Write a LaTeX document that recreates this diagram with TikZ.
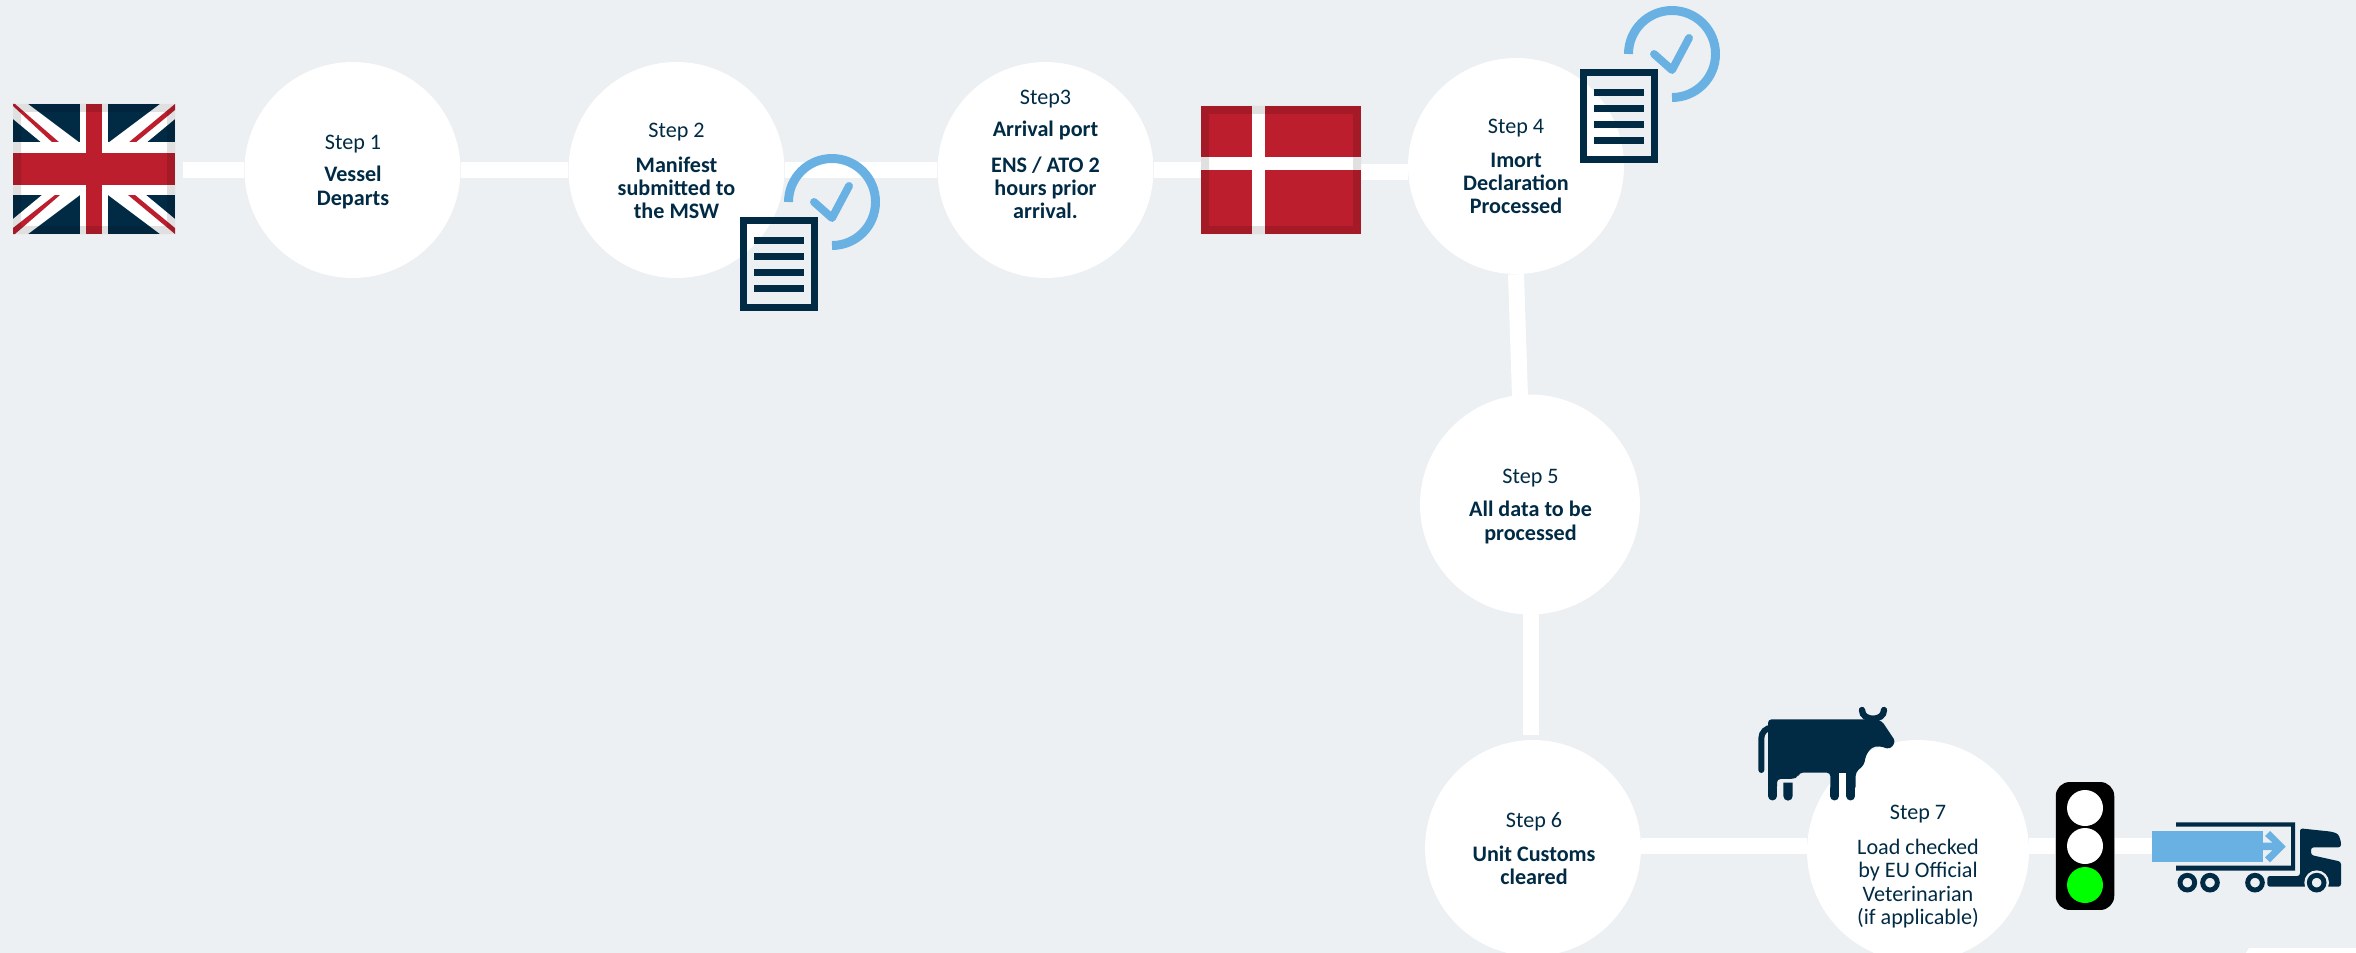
\documentclass[tikz,border=0pt]{standalone}
\usepackage{fontspec}
\setmainfont{Carlito}
\usetikzlibrary{positioning}
\definecolor{paper}{HTML}{ECF0F3}
\definecolor{navy}{HTML}{012B45}
\definecolor{flagred}{HTML}{BC1E2D}
\definecolor{sky}{HTML}{69B1E3}
\tikzset{stepdisc/.style = {draw = none, fill = white, circle, inner sep = 0, minimum size = 4.32cm}}
\tikzset{steplabel/.style = {text = navy, align = center, inner sep = 0, font = \fontsize{12.6}{13.2}\selectfont}}
\tikzset{stepbody/.style = {steplabel, font = \fontsize{12.6}{13.2}\selectfont\bfseries}}
\tikzset{link/.style = {draw = white, line width = 9.1pt}}
\tikzset{lamp/.style = {circle, inner sep = 0, minimum size = 0.72cm}}
\tikzset{docmark/.pic = {
      \draw [sky, line width = 5.1pt] (-43.5, 0) arc [start angle = 180, end angle = 450, radius = 43.5];
      \draw [sky, line width = 4.5pt, line cap = round, line join = round] (-18, 0) -- (0, 16) -- (17, -16);
      \draw [navy, line width = 4pt] (-88.5, 18.5) rectangle (-17.5, 105.5);
      \draw [navy, line width = 4pt] (-78, 38.5) -- (-28, 38.5);
      \draw [navy, line width = 4pt] (-78, 54.5) -- (-28, 54.5);
      \draw [navy, line width = 4pt] (-78, 70.5) -- (-28, 70.5);
      \draw [navy, line width = 4pt] (-78, 86.5) -- (-28, 86.5);
    }}

\begin{document}
\begin{tikzpicture}[x=0.02cm, y=-0.02cm]
      \path [use as bounding box, clip] (0, 0) rectangle (2356, 953);
      \fill [paper] (0, 0) rectangle (2356, 953);
      \fill [white] (2246, 953) -- (2249, 948) -- (2356, 948) -- (2356, 953) -- cycle;

      % stops along the route
      \node [stepdisc] (s1) at (352.5, 170) {};
      \node [stepdisc] (s2) at (676.5, 170) {};
      \node [stepdisc] (s3) at (1045.5, 170) {};
      \node [stepdisc] (s4) at (1516, 166) {};
      \node [stepdisc, minimum size = 4.4cm] (s5) at (1530, 504.5) {};
      \node [stepdisc] (s6) at (1533, 848) {};
      \node [stepdisc, minimum size = 4.44cm] (s7) at (1918, 851) {};

      \node [fill = navy, inner sep = 0, minimum width = 3.24cm, minimum height = 2.6cm] (ukflag) at (94, 169) {};
      \node [fill = flagred, inner sep = 0, minimum width = 3.2cm, minimum height = 2.56cm] (dkflag) at (1281, 170) {};
      \node [fill = black, rounded corners = 8pt, inner sep = 0, minimum width = 1.17cm, minimum height = 2.56cm] (signal) at (2085, 846) {};
      \node [fill = sky, inner sep = 0, minimum width = 2.22cm, minimum height = 0.62cm, anchor = west] (load) at (2151.5, 846) {};

      \coordinate (ukend) at (183, 170);
      \coordinate (dkend) at (1361, 172);
      \coordinate (s5top) at (1520, 397);
      \coordinate (s5foot) at (1531, 613);
      \coordinate (s6head) at (1531, 735);
      \draw [link] (ukend) -- (s1);
      \draw [link] (s1) -- (s2);
      \draw [link] (s2) -- (s3);
      \draw [link] (s3) -- (dkflag);
      \draw [link] (dkend) -- (s4.west |- dkend);
      \draw [link] (s4.south) -- (s5top);
      \draw [link] (s5foot) -- (s6head);
      \draw [link] (s6.east |- signal) -- (s7.west |- signal);
      \draw [link] (s7.east |- signal) -- (signal);
      \draw [link] (signal) -- (load);

      % union flag
      \begin{scope}
        \clip (13, 104) rectangle (175, 234);
        \fill [white] (13, 104) -- (28, 104) -- (80, 143) -- (42, 143) -- (13, 119) -- cycle;
        \fill [white] (175, 104) -- (160, 104) -- (108, 143) -- (146, 143) -- (175, 119) -- cycle;
        \fill [white] (13, 234) -- (28, 234) -- (80, 195) -- (42, 195) -- (13, 219) -- cycle;
        \fill [white] (175, 234) -- (160, 234) -- (108, 195) -- (146, 195) -- (175, 219) -- cycle;
        \fill [flagred] (13, 106) -- (53, 143) -- (60, 143) -- (15, 104) -- (13, 104) -- cycle;
        \fill [flagred] (175, 104) -- (128, 143) -- (135, 143) -- (175, 110) -- cycle;
        \fill [flagred] (13, 228) -- (55, 195) -- (60, 195) -- (15, 234) -- (13, 234) -- cycle;
        \fill [flagred] (128, 195) -- (135, 195) -- (175, 228) -- (175, 234) -- cycle;
        \fill [white] (13, 142) rectangle (175, 195);
        \fill [white] (79.5, 104) rectangle (108, 234);
        \fill [flagred] (13, 153) rectangle (175, 185);
        \fill [flagred] (86, 104) rectangle (102, 234);
        \fill [black, opacity = 0.12, even odd rule] (13, 104) rectangle (175, 234) (21, 112) rectangle (167, 226);
      \end{scope}

      % danish flag
      \fill [white] (1201, 157) rectangle (1361, 170);
      \fill [white] (1252, 106) rectangle (1265, 234);
      \fill [black, opacity = 0.12, even odd rule] (1201, 106) rectangle (1361, 234) (1209, 114) rectangle (1353, 226);

      \node [steplabel] (t1) at (353, 144) {Step 1};
      \node [stepbody] (b1) at (353, 187.5) {Vessel\\Departs};
      \node [steplabel] (t2) at (676.5, 132) {Step 2};
      \node [stepbody] (b2) at (676.5, 188) {Manifest\\submitted to\\the MSW};
      \node [steplabel] (t3) at (1045.5, 99) {Step3};
      \node [stepbody] (b3a) at (1045.5, 130) {Arrival port};
      \node [stepbody] (b3) at (1045.5, 188) {ENS / ATO 2\\hours prior\\arrival.};
      \node [steplabel] (t4) at (1516, 128) {Step 4};
      \node [stepbody] (b4) at (1516, 183.5) {Imort\\Declaration\\Processed};
      \node [steplabel] (t5) at (1530.5, 478) {Step 5};
      \node [stepbody] (b5) at (1530.5, 522.5) {All data to be\\processed};
      \node [steplabel] (t6) at (1534, 821.5) {Step 6};
      \node [stepbody] (b6) at (1534, 865.5) {Unit Customs\\cleared};
      \node [steplabel] (t7) at (1918, 814) {Step 7};
      \node [steplabel] (b7) at (1918, 883.5) {Load checked\\by EU Official\\Veterinarian\\(if applicable)};

      \path (832, 202) pic {docmark};
      \path (1672, 54) pic {docmark};

      % cow
      \begin{scope}[shift = {(1740, 690)}, scale = 0.3333]
        \fill [navy, rounded corners = 2pt] (84, 300) -- (84, 88) -- (385, 88) -- (425, 92) -- (467, 155) -- (450, 178) -- (418, 168) -- (395, 172) -- (378, 195) -- (372, 225) -- (347, 247) -- (347, 300) -- (271, 300) -- (271, 248) -- (178, 248) -- (174, 260) -- (160, 267) -- (111, 267) -- (111, 300) -- cycle;
        \fill [white, rounded corners = 0pt] (297, 248) rectangle (318, 300);
        \draw [navy, line width = 3.6pt, line cap = round] (366, 60) .. controls (366, 95) and (432, 95) .. (432, 60);
        \draw [navy, line width = 5.1pt, line cap = round] (97.5, 295) -- (97.5, 318);
        \draw [navy, line width = 5.1pt, line cap = round] (284, 295) -- (284, 318);
        \draw [navy, line width = 5.1pt, line cap = round] (332.5, 295) -- (332.5, 318);
        \fill [navy] (130, 278) -- (158, 278) -- (158, 318) arc [start angle = 0, end angle = 180, radius = 14] -- cycle;
        \draw [navy, line width = 3.4pt, line cap = round, rounded corners = 6pt] (90, 113) -- (64, 113) -- (64, 240);
      \end{scope}

      % signal lamps
      \node [lamp, fill = white] (lamptop) at (2085, 808) {};
      \node [lamp, fill = white] (lampmid) at (2085, 846) {};
      \node [lamp, fill = green] (lampgo) at (2085, 885) {};

      % lorry
      \begin{scope}[shift = {(2130, 800)}, scale = 0.3333]
        \fill [navy] (138, 67) -- (495, 67) -- (495, 212) -- (138, 212) -- (138, 197) -- (483, 197) -- (483, 80) -- (138, 80) -- cycle;
        \fill [sky] (65, 93) rectangle (397, 185);
        \fill [sky] (397, 128) -- (428, 128) -- (405, 108) -- (420, 93) -- (467, 140) -- (420, 187) -- (405, 172) -- (428, 150) -- (397, 150) -- cycle;
        \fill [navy, rounded corners = 1.5pt] (510, 228) -- (510, 85) -- (605, 95) -- (625, 102) -- (633, 125) -- (633, 142) -- (543, 142) -- (543, 165) -- (633, 185) -- (633, 260) -- (412, 260) -- (412, 228) -- cycle;
        \fill [paper] (560, 248) circle [radius = 37];
        \fill [paper] (523, 261) rectangle (597, 290);
        \draw [navy, line width = 2.8pt, fill = paper] (172, 248) circle [radius = 22];
        \draw [navy, line width = 2.8pt, fill = paper] (240, 248) circle [radius = 22];
        \draw [navy, line width = 2.8pt, fill = paper] (375, 248) circle [radius = 22];
        \draw [navy, line width = 2.8pt, fill = paper] (560, 248) circle [radius = 22];
      \end{scope}
    \end{tikzpicture}
\end{document}
